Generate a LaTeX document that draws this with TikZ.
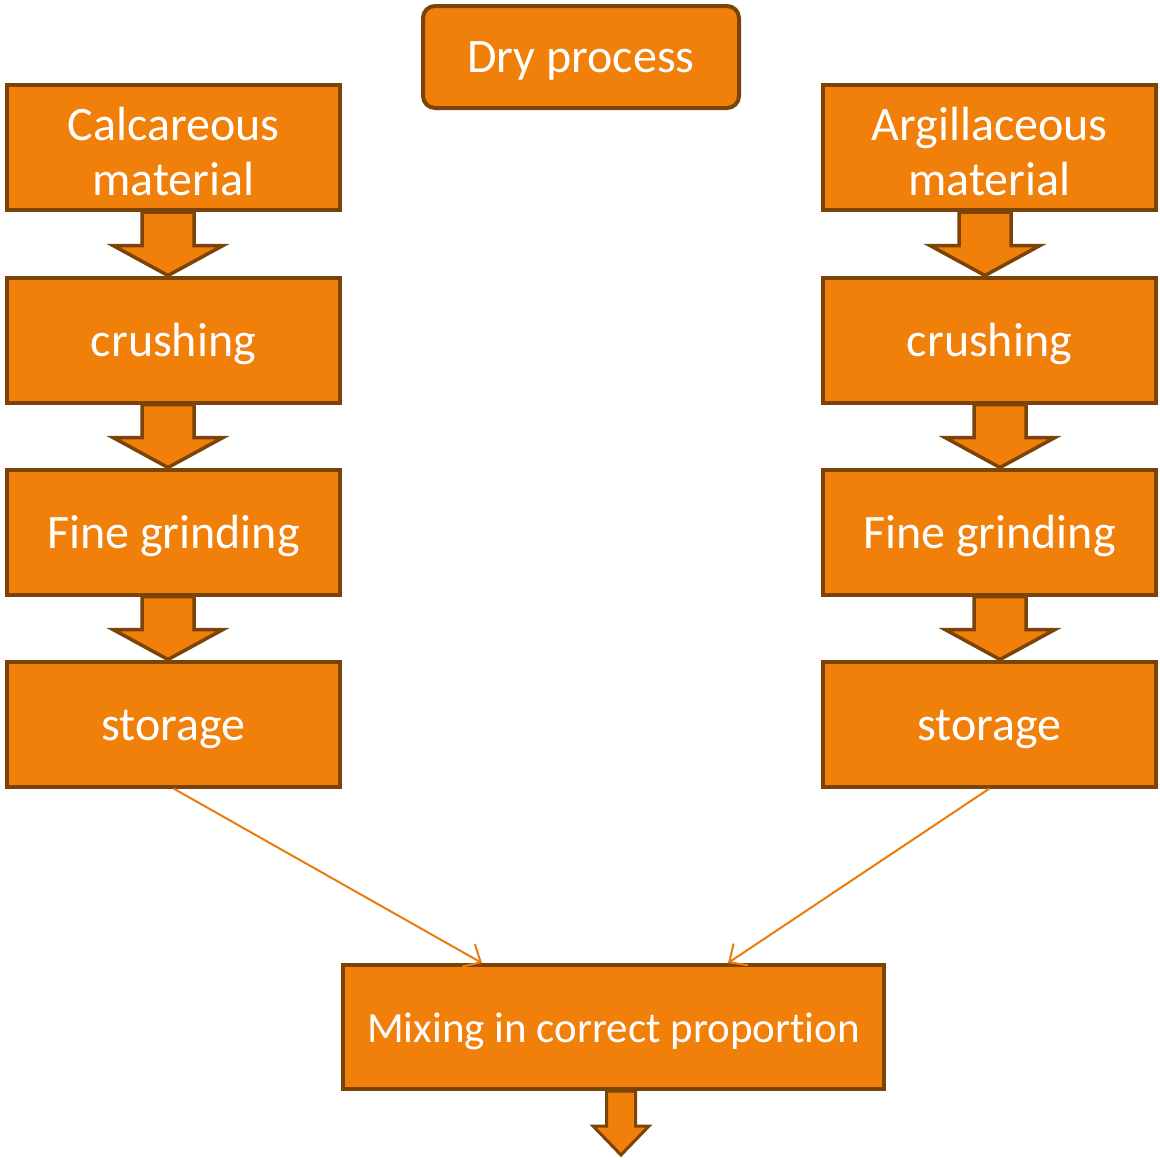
\documentclass[tikz,border=0pt]{standalone}
\usepackage{fontspec}
\setmainfont[Ligatures={NoCommon}]{Carlito}
\usetikzlibrary{calc,arrows.meta}
\definecolor{boxfill}{RGB}{240,128,10}
\definecolor{boxline}{RGB}{122,67,8}
\definecolor{thinline}{RGB}{232,125,14}
\tikzset{
  procbox/.style={draw=boxline, fill=boxfill, line width=4pt, minimum width=333pt, minimum height=125pt,
    inner sep=0pt, align=center, text=white, font=\fontsize{48}{55}\selectfont},
  blockarrow/.style={draw=boxline, fill=boxfill, line width=3.5pt, line join=miter},
  thinarrow/.style={draw=thinline, line width=2pt, -{Straight Barb[length=14pt,width=26pt,line width=2pt]}}
}
\newcommand\lowtext[2]{\raisebox{-#1pt}[\height][\depth]{\begin{tabular}{@{}c@{}}#2\end{tabular}}}
\newcommand\barrowdown[3]{%
  \path[blockarrow] let \p1=($(#1.south)+(#3,0)$), \p2=($(#2.north)+(#3,0)$) in
    (\x1-26pt,\y1) -- (\x1-26pt,\y2+30pt) -- (\x1-55pt,\y2+30pt) -- (\x2,\y2)
    -- (\x1+55pt,\y2+30pt) -- (\x1+26pt,\y2+30pt) -- (\x1+26pt,\y1) -- cycle;}
\begin{document}
\begin{tikzpicture}[x=1pt,y=-1pt]
\useasboundingbox (0,0) rectangle (1160,1160);
% nodes (boxes)
\node[procbox, rounded corners=12pt, minimum width=316pt, minimum height=102pt] (dry) at (581,57) {\lowtext{4}{Dry process}};
\node[procbox] (L1) at (173.5,147.5) {\lowtext{9}{Calcareous\\material}};
\node[procbox] (L2) at (173.5,340) {\lowtext{5}{crushing}};
\node[procbox] (L3) at (173.5,532) {\lowtext{5}{Fine grinding}};
\node[procbox] (L4) at (173.5,724) {\lowtext{5}{storage}};
\node[procbox] (R1) at (989.5,147.5) {\lowtext{9}{Argillaceous\\material}};
\node[procbox] (R2) at (989.5,340) {\lowtext{5}{crushing}};
\node[procbox] (R3) at (989.5,532) {\lowtext{5}{Fine grinding}};
\node[procbox] (R4) at (989.5,724) {\lowtext{5}{storage}};
\node[procbox, minimum width=541pt, minimum height=124pt, font=\fontsize{43}{50}\selectfont] (mix) at (613.5,1027) {\lowtext{5}{Mixing in correct proportion}};
% block arrows
\barrowdown{L1}{L2}{-5.5pt}
\barrowdown{L2}{L3}{-5.5pt}
\barrowdown{L3}{L4}{-5.5pt}
\barrowdown{R1}{R2}{-4.5pt}
\barrowdown{R2}{R3}{10.5pt}
\barrowdown{R3}{R4}{10.5pt}
% bottom arrow
\coordinate (out) at (621,1155);
\path[blockarrow, line width=3pt] let \p1=($(mix.south)+(7.5pt,0)$), \p2=(out) in
  (\x1-14.5pt,\y1) -- (\x1-14.5pt,\y2+29pt) -- (\x1-28pt,\y2+29pt) -- (\x2,\y2)
  -- (\x1+28pt,\y2+29pt) -- (\x1+14.5pt,\y2+29pt) -- (\x1+14.5pt,\y1) -- cycle;
% thin connectors
\draw[thinarrow] (L4.south) -- ($(mix.north west)+(141pt,0)$);
\draw[thinarrow] (R4.south) -- ($(mix.north west)+(387pt,0)$);
\end{tikzpicture}
\end{document}
